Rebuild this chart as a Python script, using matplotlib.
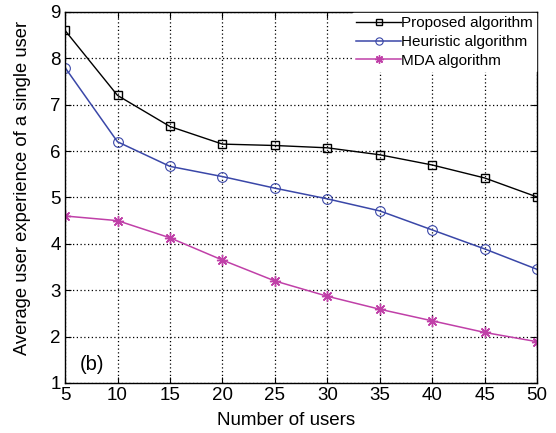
import matplotlib
matplotlib.use("Agg")
import matplotlib.pyplot as plt

plt.rcParams['font.family'] = ['Liberation Sans', 'DejaVu Sans']

users = [5, 10, 15, 20, 25, 30, 35, 40, 45, 50]
proposed = [8.6, 7.2, 6.53, 6.15, 6.12, 6.07, 5.92, 5.70, 5.42, 5.01]
heuristic = [7.8, 6.2, 5.67, 5.45, 5.2, 4.97, 4.71, 4.30, 3.89, 3.45]
mda = [4.6, 4.5, 4.13, 3.65, 3.2, 2.87, 2.59, 2.34, 2.09, 1.89]

fig = plt.figure(figsize=(5.56, 4.33), dpi=100)
ax = fig.add_axes([0.117, 0.1155, 0.849, 0.857])

ax.plot(users, proposed, '-s', color='black', lw=1.0, markersize=6,
        markerfacecolor='none', markeredgewidth=1.0, label='Proposed algorithm')
ax.plot(users, heuristic, '-o', color='#3a47a8', lw=1.1, markersize=7,
        markerfacecolor='none', markeredgewidth=0.8, label='Heuristic algorithm')
ax.plot(users, mda, '-', marker=(8, 2, 0), color='#c040a8', lw=1.1, markersize=8,
        markeredgewidth=1.0, label='MDA algorithm')

ax.set_xlim(5, 50)
ax.set_ylim(1, 9)
ax.set_xticks(users)
ax.set_yticks(range(1, 10))
ax.grid(True, linestyle=(0, (1, 2)), color='black', linewidth=0.9)
ax.tick_params(direction='in', labelsize=13.5, length=4, pad=3, top=True, right=True)
for s in ax.spines.values():
    s.set_linewidth(1.0)

ax.set_xlabel('Number of users', fontsize=13.5)
ax.xaxis.set_label_coords(0.468, -0.078)
ax.set_ylabel('Average user experience of a single user', fontsize=13.2)
ax.yaxis.set_label_coords(-0.072, 0.526)
ax.text(6.4, 1.28, '(b)', fontsize=14.5)

# legend: white box without visible edge, small markers
leg = ax.legend(loc='upper right', fontsize=11, frameon=True, fancybox=False,
                edgecolor='white', framealpha=1, borderpad=0.25, labelspacing=0.3,
                handlelength=2.9, handletextpad=0.0, borderaxespad=0.05,
                markerscale=0.75)

fig.savefig('out.png', dpi=100)
